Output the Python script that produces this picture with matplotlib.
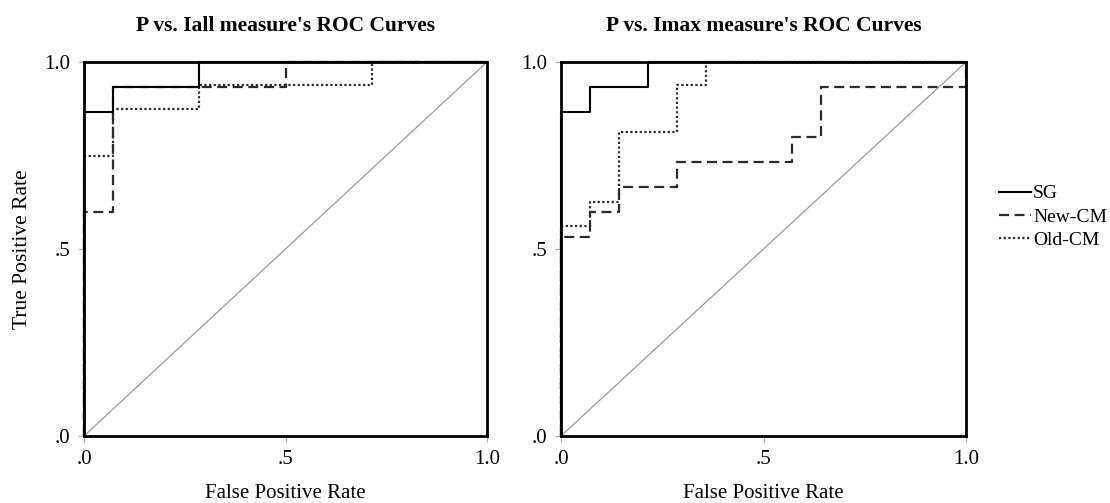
import matplotlib
matplotlib.use('Agg')
import matplotlib.pyplot as plt

# 数据 (steps-post 形式的ROC点)
titles = ["P vs. Iall measure's ROC Curves", "P vs. Imax measure's ROC Curves"]
series_names = ['SG', 'New-CM', 'Old-CM']

iall_sg_fpr = [0, 0, 0.071, 0.286, 1.0]
iall_sg_tpr = [0, 0.867, 0.933, 1.0, 1.0]
iall_new_fpr = [0, 0, 0.071, 0.5, 1.0]
iall_new_tpr = [0, 0.6, 0.933, 1.0, 1.0]
iall_old_fpr = [0, 0, 0.071, 0.286, 0.714, 1.0]
iall_old_tpr = [0, 0.75, 0.875, 0.9375, 1.0, 1.0]

imax_sg_fpr = [0, 0, 0.071, 0.214, 1.0]
imax_sg_tpr = [0, 0.867, 0.933, 1.0, 1.0]
imax_new_fpr = [0, 0, 0.071, 0.143, 0.286, 0.571, 0.643, 1.0]
imax_new_tpr = [0, 0.533, 0.6, 0.667, 0.733, 0.8, 0.933, 1.0]
imax_old_fpr = [0, 0, 0.071, 0.143, 0.286, 0.357, 1.0]
imax_old_tpr = [0, 0.5625, 0.625, 0.8125, 0.9375, 1.0, 1.0]

tick_vals = [0, 0.5, 1.0]
tick_labels = ['.0', '.5', '1.0']

plt.rcParams['font.family'] = ['Liberation Serif', 'DejaVu Serif']
fs = 15

fig = plt.figure(figsize=(11.1, 5.03), dpi=100)
ax1 = fig.add_axes([84 / 1110, 67 / 503, 403 / 1110, 374 / 503])
ax2 = fig.add_axes([561 / 1110, 67 / 503, 405 / 1110, 374 / 503])

styles = [dict(color='black', linestyle='-', linewidth=1.5),
          dict(color='#2a2a2a', linestyle=(0, (4.5, 2.5)), linewidth=1.6),
          dict(color='#2a2a2a', linestyle=(0, (1, 1.1)), linewidth=1.6)]

panels = [
    [(iall_sg_fpr, iall_sg_tpr), (iall_new_fpr, iall_new_tpr), (iall_old_fpr, iall_old_tpr)],
    [(imax_sg_fpr, imax_sg_tpr), (imax_new_fpr, imax_new_tpr), (imax_old_fpr, imax_old_tpr)],
]

handles = []
for i, ax in enumerate([ax1, ax2]):
    ax.plot([0, 1], [0, 1], color='#9a9a9a', linewidth=0.9, zorder=1)
    for j, (fx, ty) in enumerate(panels[i]):
        ln, = ax.plot(fx, ty, drawstyle='steps-post', clip_on=False,
                      label=series_names[j], zorder=3 - j * 0.1, **styles[j])
        if i == 0:
            handles.append(ln)
    ax.set_xlim(0, 1)
    ax.set_ylim(0, 1)
    ax.set_xticks(tick_vals)
    ax.set_xticklabels(tick_labels)
    ax.set_yticks(tick_vals)
    ax.set_yticklabels(tick_labels)
    ax.tick_params(length=4, width=0.8, color='#aaaaaa', labelsize=fs, pad=6)
    for s in ax.spines.values():
        s.set_linewidth(2.0)
        s.set_color('black')
        s.set_zorder(5)
    ax.set_title(titles[i], fontsize=15.5, fontweight='bold', pad=22)
    ax.set_xlabel('False Positive Rate', fontsize=fs, labelpad=11)

ax1.set_ylabel('True Positive Rate', fontsize=15.5, labelpad=9)

fig.legend(handles=handles, labels=series_names, loc='center left',
           bbox_to_anchor=(999 / 1110, 1 - 217 / 503), frameon=False,
           fontsize=14, handlelength=1.65, handletextpad=0.1,
           labelspacing=0.3, borderpad=0, borderaxespad=0)

fig.savefig('out.png', dpi=100)
